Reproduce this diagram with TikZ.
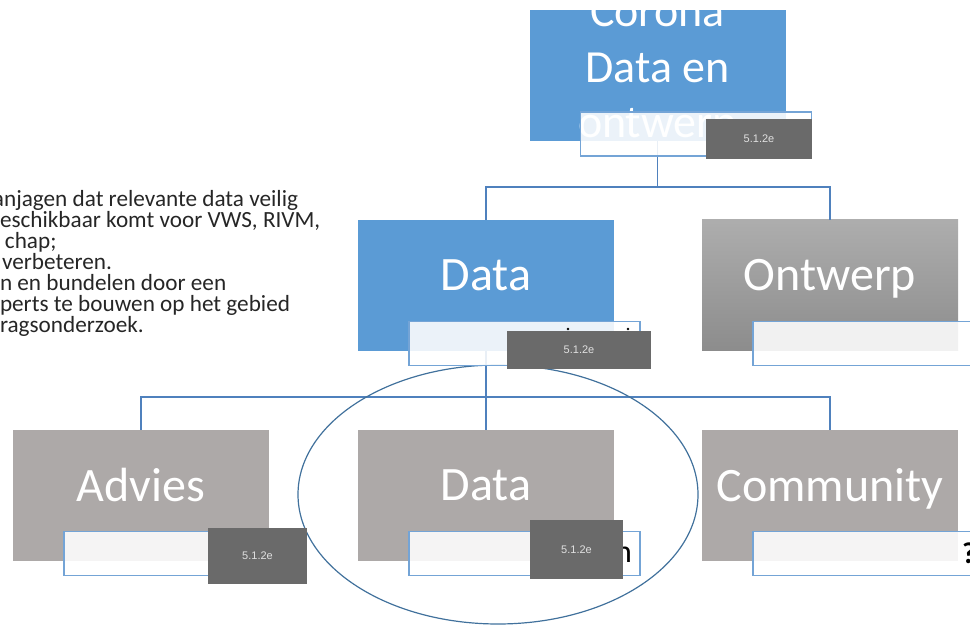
\documentclass[tikz,border=0pt]{standalone}
\usepackage{fontspec}
\setmainfont{Carlito}
\newfontfamily\blotfont{Liberation Sans}
\usepackage{xcolor}
\usetikzlibrary{positioning}
\definecolor{boxblue}{HTML}{5B9BD5}
\definecolor{boxgray}{HTML}{ADA9A8}
\definecolor{linkblue}{HTML}{4F81BD}
\definecolor{ringblue}{HTML}{41719C}
\definecolor{redact}{HTML}{6A6A6A}
\definecolor{labelline}{HTML}{74A4D6}

\begin{document}
\begin{tikzpicture}[x=1pt, y=-1pt,
    every node/.style={inner sep=0pt, outer sep=0pt},
    unit/.style={minimum width=256pt, minimum height=131pt, text=white,
                 text depth=20pt, font=\fontsize{48}{55}\selectfont},
    namecard/.style={draw=labelline, line width=1.3pt, fill=white,
                     fill opacity=0.88, minimum width=231pt, minimum height=44pt},
    blot/.style={fill=redact, text=white!88!black,
                 font=\blotfont\fontsize{11}{13}\selectfont},
    link/.style={draw=linkblue, line width=1.3pt}]
\useasboundingbox (0,0) rectangle (970,626);

\foreach \x/\t [count=\i] in {-7/anjagen dat relevante data veilig,
                              0/{eschikbaar komt voor VWS, RIVM,},
                              5/chap;, 2/verbeteren.,
                              0/n en bundelen door een,
                              0/perts te bouwen op het gebied,
                              0/ragsonderzoek.}
  \node[anchor=base west, text=black!85, font=\fontsize{23.2}{25}\selectfont]
    (goal\i) at (\x,185+21*\i) {\t};

\node[unit, fill=boxblue] (corona) at (657.5,75.5) {};
\foreach \t/\y [count=\i] in {Corona/27, Data en/82, ontwerp/137}
  \node[anchor=base, text=white, font=\fontsize{46}{55}\selectfont]
    (corona\i) at (657.5,\y) {\t};

\node[unit, fill=boxblue] (data) at (486,285) {Data};
\node[unit, top color=black!32, bottom color=black!45] (ontwerp) at (830,285) {Ontwerp};
\node[unit, fill=boxgray] (advies) at (141,495) {Advies};
\node[unit, fill=boxgray] (datateam) at (486,495) {Data};
\node[unit, fill=boxgray] (community) at (830,495) {Community};

\coordinate (topbus) at (corona.south |- 0,187);
\coordinate (lowbus) at (data.south |- 0,397);
\draw[link] (corona.south) -- (topbus);
\draw[link] (data.north) |- (topbus) -| (ontwerp.north);
\draw[link] (data.south) -- (lowbus) -- (datateam.north);
\draw[link] (advies.north) |- (lowbus) -| (community.north);

\draw[ringblue, line width=1.2pt] (498,494.5) ellipse (200 and 129.5);

\foreach \n in {corona,data,ontwerp,advies,datateam,community}
  \node[namecard] (\n card) at ([shift={(38.5,58.5)}]\n.center) {};

\fill (568,329) circle (1.3);
\fill (628,329) circle (1.3);
\node[anchor=base east, font=\fontsize{32}{34}\selectfont] (datarest) at (632,562) {n};
\node[anchor=base west, font=\bfseries\fontsize{30}{32}\selectfont] (communityrest) at (962,563) {?};

\node[blot, minimum width=106pt, minimum height=40pt] (coronablot) at (759,139) {5.1.2e};
\node[blot, minimum width=144pt, minimum height=38pt] (datablot) at (579,350) {5.1.2e};
\node[blot, minimum width=99pt, minimum height=56pt] (adviesblot) at (257.5,556) {5.1.2e};
\node[blot, minimum width=93pt, minimum height=59pt] (datateamblot) at (576.5,549.5) {5.1.2e};
\end{tikzpicture}
\end{document}
